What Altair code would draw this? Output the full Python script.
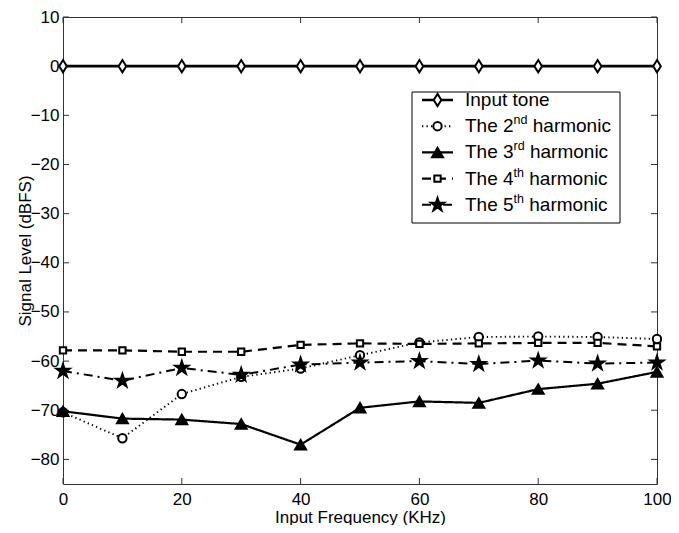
import altair as alt
import pandas as pd

# ---- data ----
freq = [0, 10, 20, 30, 40, 50, 60, 70, 80, 90, 100]
input_tone = [0.0, 0.0, 0.0, 0.0, 0.0, 0.0, 0.0, 0.0, 0.0, 0.0, 0.0]
h2 = [-70.4, -75.7, -66.7, -63.2, -61.5, -58.8, -56.2, -55.1, -55.0, -55.1, -55.5]
h3 = [-70.2, -71.7, -71.9, -72.8, -77.0, -69.5, -68.2, -68.5, -65.7, -64.6, -62.2]
h4 = [-57.8, -57.8, -58.1, -58.1, -56.7, -56.4, -56.5, -56.4, -56.3, -56.3, -57.0]
h5 = [-62.0, -64.0, -61.4, -62.8, -60.7, -60.3, -60.0, -60.6, -59.9, -60.5, -60.3]

x_ticks = [0, 20, 40, 60, 80, 100]
y_ticks = [10, 0, -10, -20, -30, -40, -50, -60, -70, -80]

W, H = 594, 467
LEFT, TOP = 55, 9
FONT = "Liberation Sans"

STAR = ("M0,-1L0.2245,-0.309L0.951,-0.309L0.363,0.118L0.588,0.809L0,0.382"
        "L-0.588,0.809L-0.363,0.118L-0.951,-0.309L-0.2245,-0.309Z")
TALL_DIAMOND = "M0,-1L0.62,0L0,1L-0.62,0Z"

series = [
    dict(vals=input_tone, shape=TALL_DIAMOND, size=150, fill="white", dash=[1, 0], sw=2.6,
         main="Input tone", sup=""),
    dict(vals=h2, shape="circle", size=70, fill="white", dash=[1.3, 3.2], sw=1.9,
         main="The 2", sup="nd"),
    dict(vals=h3, shape="triangle-up", size=120, fill="black", dash=[1, 0], sw=2.2,
         main="The 3", sup="rd"),
    dict(vals=h4, shape="square", size=40, fill="white", dash=[9, 6], sw=2.2,
         main="The 4", sup="th"),
    dict(vals=h5, shape=STAR, size=190, fill="black", dash=[9, 5, 2, 5], sw=2.0,
         main="The 5", sup="th"),
]

xs = alt.Scale(domain=[0, 100], nice=False, zero=False)
ys = alt.Scale(domain=[-85, 10], nice=False, zero=False)

layers = []

# inward ticks (positions through the scales)
xt = pd.DataFrame({"f": x_ticks})
yt = pd.DataFrame({"v": y_ticks})
tick_style = dict(color="#333", strokeWidth=1)
layers.append(alt.Chart(xt).mark_rule(**tick_style).encode(
    x=alt.X("f:Q", scale=xs), y=alt.value(H), y2=alt.value(H - 6)))
layers.append(alt.Chart(xt).mark_rule(**tick_style).encode(
    x=alt.X("f:Q", scale=xs), y=alt.value(0), y2=alt.value(6)))
layers.append(alt.Chart(yt).mark_rule(**tick_style).encode(
    y=alt.Y("v:Q", scale=ys), x=alt.value(0), x2=alt.value(6)))
layers.append(alt.Chart(yt).mark_rule(**tick_style).encode(
    y=alt.Y("v:Q", scale=ys), x=alt.value(W - 6), x2=alt.value(W)))

# data lines and markers
for s in series:
    df = pd.DataFrame({"freq": freq, "level": s["vals"]})
    xenc = alt.X("freq:Q", scale=xs,
                 axis=alt.Axis(values=x_ticks, title="Input Frequency (KHz)",
                               ticks=False, domain=False, grid=False,
                               labelFlush=False, labelOverlap=False,
                               labelPadding=7, titleY=33, titleBaseline="middle"))
    yenc = alt.Y("level:Q", scale=ys,
                 axis=alt.Axis(values=y_ticks, title="Signal Level (dBFS)",
                               ticks=False, domain=False, grid=False,
                               labelFlush=False, labelOverlap=False,
                               labelPadding=4, titleX=-38, titleY=H / 2,
                               titleAngle=270, titleBaseline="middle",
                               titleAlign="center"))
    line = alt.Chart(df).mark_line(color="black", strokeWidth=s["sw"],
                                   strokeDash=s["dash"]).encode(x=xenc, y=yenc)
    pts = alt.Chart(df).mark_point(shape=s["shape"], size=s["size"], filled=False,
                                   fill=s["fill"], fillOpacity=1, stroke="black",
                                   strokeWidth=2, opacity=1).encode(
        x=alt.X("freq:Q", scale=xs), y=alt.Y("level:Q", scale=ys))
    layers += [line, pts]

# legend (layout only)
one = pd.DataFrame({"k": [0]})
LX0, LX1, LY0, LY1 = 349, 557, 75, 206
layers.append(alt.Chart(one).mark_rect(fill="white", stroke="black", strokeWidth=1).encode(
    x=alt.value(LX0), x2=alt.value(LX1), y=alt.value(LY0), y2=alt.value(LY1)))

FS = 19
SUPFS = 12.5
w_main = 2.557 * FS
sup_w = {"nd": 1.112 * SUPFS, "rd": 0.889 * SUPFS, "th": 0.834 * SUPFS}
for i, s in enumerate(series):
    ry = 83 + 26.2 * i
    layers.append(alt.Chart(one).mark_rule(color="black", strokeWidth=s["sw"],
                                           strokeDash=s["dash"]).encode(
        x=alt.value(359), x2=alt.value(390), y=alt.value(ry)))
    layers.append(alt.Chart(one).mark_point(shape=s["shape"], size=s["size"], filled=False,
                                            fill=s["fill"], fillOpacity=1, stroke="black",
                                            strokeWidth=2, opacity=1).encode(
        x=alt.value(374.5), y=alt.value(ry)))
    tx = 402
    layers.append(alt.Chart(one).mark_text(text=s["main"], font=FONT, fontSize=FS,
                                           align="left", baseline="middle",
                                           color="black").encode(
        x=alt.value(tx), y=alt.value(ry)))
    if s["sup"]:
        sx = tx + w_main
        layers.append(alt.Chart(one).mark_text(text=s["sup"], font=FONT, fontSize=SUPFS,
                                               align="left", baseline="middle",
                                               color="black").encode(
            x=alt.value(sx), y=alt.value(ry - 6)))
        hx = sx + sup_w[s["sup"]] + 0.278 * FS
        layers.append(alt.Chart(one).mark_text(text="harmonic", font=FONT, fontSize=FS,
                                               align="left", baseline="middle",
                                               color="black").encode(
            x=alt.value(hx), y=alt.value(ry)))

chart = alt.layer(*layers).properties(
    width=W, height=H,
    padding={"left": LEFT, "top": TOP, "right": 14, "bottom": 41},
    autosize=alt.AutoSizeParams(type="none"),
).configure_view(
    stroke="#333", strokeWidth=1
).configure_axis(
    labelFont=FONT, titleFont=FONT, labelFontSize=17, titleFontSize=17,
    labelColor="black", titleColor="black", titleFontWeight="normal",
)

chart.save("out.html", embed_options={"renderer": "svg", "actions": False})
